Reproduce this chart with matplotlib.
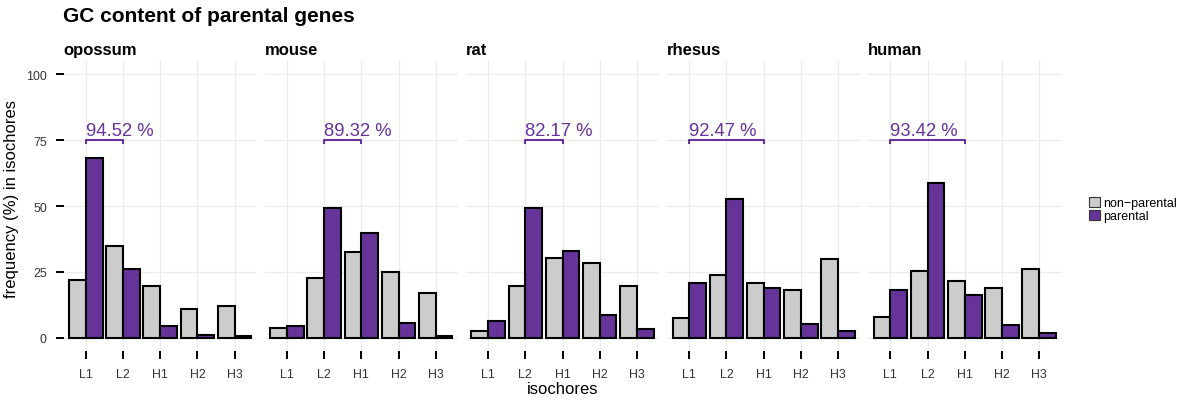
import matplotlib
matplotlib.use("Agg")
import matplotlib.pyplot as plt
from matplotlib.patches import Patch
import numpy as np

plt.rcParams['font.family'] = ['Liberation Sans', 'DejaVu Sans']

isochores = ["L1", "L2", "H1", "H2", "H3"]
species = ["opossum", "mouse", "rat", "rhesus", "human"]

# frequency (%) of genes falling in each isochore class
nonparental_freq = [
    [22.1, 34.7, 19.7, 11.1, 12.1],
    [3.7, 22.7, 32.4, 24.8, 17.1],
    [2.5, 19.6, 30.3, 28.2, 19.6],
    [7.7, 23.7, 20.7, 18.3, 29.8],
    [8.0, 25.2, 21.7, 19.0, 26.1],
]
parental_freq = [
    [68.30, 26.22, 4.3, 1.1, 0.6],
    [4.3, 49.40, 39.92, 5.6, 0.8],
    [6.3, 49.30, 32.87, 8.5, 3.4],
    [20.67, 52.80, 19.00, 5.3, 2.4],
    [18.32, 58.80, 16.30, 4.8, 2.0],
]
# isochore range (first, last index) summed for the bracket annotation
bracket_first = [0, 1, 1, 0, 0]
bracket_last = [1, 2, 2, 2, 2]

grey = "#CCCCCC"
purple = "#663399"

W, H = 1183, 402
fig = plt.figure(figsize=(W / 100, H / 100), dpi=100)

left_px, right_px, gap_px = 63.5, 1061.5, 7.75
top_px, bottom_px = 62, 352
pw = (right_px - left_px - 4 * gap_px) / 5

x = np.arange(len(isochores))
bw = 0.45

for i, sp in enumerate(species):
    x0 = left_px + i * (pw + gap_px)
    ax = fig.add_axes([x0 / W, 1 - bottom_px / H, pw / W, (bottom_px - top_px) / H])
    ax.bar(x - bw / 2, nonparental_freq[i], width=bw, color=grey,
           edgecolor="black", linewidth=1.5, zorder=3)
    ax.bar(x + bw / 2, parental_freq[i], width=bw, color=purple,
           edgecolor="black", linewidth=1.5, zorder=3)

    s, e = bracket_first[i], bracket_last[i]
    pct = sum(parental_freq[i][s:e + 1])
    ax.plot([s, s, e, e], [73.6, 75, 75, 73.6], color=purple, lw=1.5,
            zorder=4, solid_capstyle="butt")
    ax.text(s, 76.9, f"{pct:.2f} %", color=purple, fontsize=13.3,
            ha="left", va="baseline", zorder=4)

    ax.set_xlim(-0.6, len(isochores) - 0.4)
    ax.set_ylim(-5, 105)
    ax.set_xticks(x)
    ax.set_xticklabels(isochores)
    ax.set_yticks([0, 25, 50, 75, 100])
    if i > 0:
        ax.tick_params(axis="y", left=False, labelleft=False)
    ax.tick_params(length=6, width=1.4, color="black", labelsize=8.9,
                   labelcolor="#333333", pad=6)
    ax.grid(True, color="#EBEBEB", lw=0.9, zorder=0)
    ax.set_axisbelow(True)
    for sp_ in ax.spines.values():
        sp_.set_visible(False)
    ax.text(0, 1.041, sp, transform=ax.transAxes, fontsize=12,
            fontweight="bold", ha="left", va="center")

fig.text(63 / W, 1 - 17 / H, "GC content of parental genes", fontsize=15,
         fontweight="bold", ha="left", va="center")
fig.text(12 / W, 1 - (top_px + bottom_px) / 2 / H + 0.02,
         "frequency (%) in isochores", fontsize=12, rotation=90,
         ha="center", va="center")
fig.text((left_px + right_px) / 2 / W, 1 - 390 / H, "isochores", fontsize=12,
         ha="center", va="center")

handles = [Patch(facecolor=grey, edgecolor="#333333", lw=0.8),
           Patch(facecolor=purple, edgecolor="#333333", lw=0.8)]
fig.legend(handles, ["non\u2212parental", "parental"], loc="upper left",
           bbox_to_anchor=(1089 / W, 1 - 198 / H), frameon=False, fontsize=9,
           handlelength=0.85, handleheight=0.9, labelspacing=0.0,
           handletextpad=0.3, borderpad=0, borderaxespad=0)

fig.savefig("out.png", dpi=100)
